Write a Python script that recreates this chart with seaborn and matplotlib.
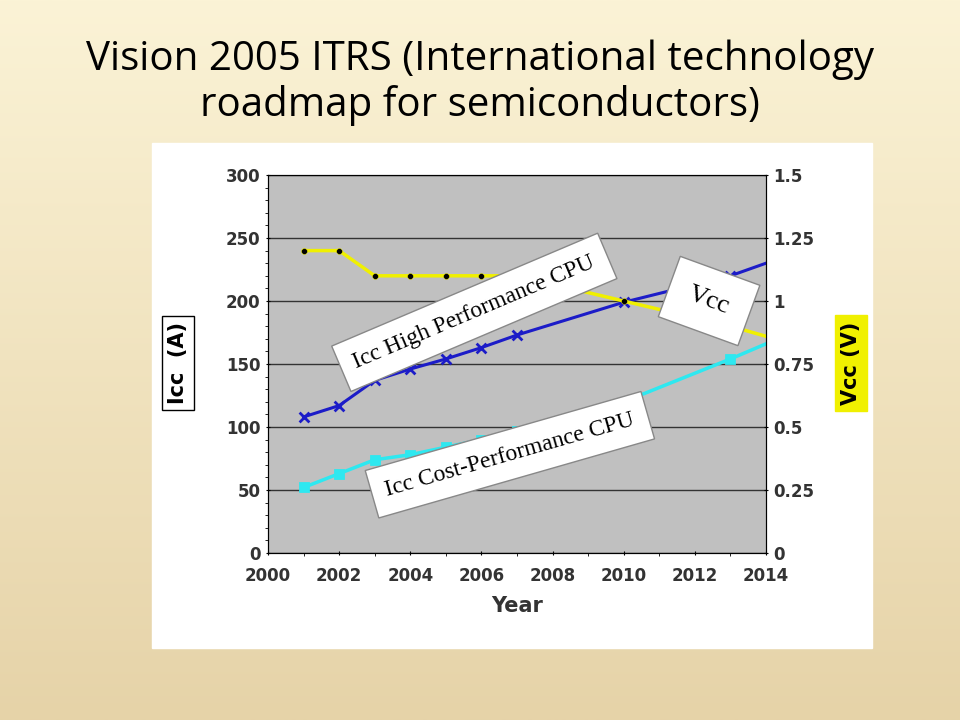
import numpy as np
import matplotlib
matplotlib.use("Agg")
import matplotlib.pyplot as plt
import seaborn as sns
import pandas as pd
from matplotlib.colors import LinearSegmentedColormap

years = [2001, 2002, 2003, 2004, 2005, 2006, 2007, 2010, 2013, 2014]
vcc = [1.2, 1.2, 1.1, 1.1, 1.1, 1.1, 1.1, 1.0, 0.9, 0.86]
icc_high = [108, 117, 137, 146, 154, 163, 173, 199, 220, 230]
icc_cost = [52, 63, 74, 78, 84, 90, 97, 120, 154, 166]
marked = [True]*9 + [False]
xticks = list(range(2000, 2015, 2))

df = pd.DataFrame(dict(year=years, vcc=vcc, high=icc_high, cost=icc_cost))
dm = df[marked]

fig = plt.figure(figsize=(9.6, 7.2), dpi=100)
bg = fig.add_axes([0, 0, 1, 1], zorder=-10)
grad = np.linspace(0, 1, 256)[:, None]
cm = LinearSegmentedColormap.from_list("g", ["#fbf3d6", "#e6d3a8"])
bg.imshow(grad, aspect="auto", cmap=cm, extent=[0, 1, 0, 1], origin="upper")
bg.axis("off")
fig.text(0.5, 0.945, "Vision 2005 ITRS (International technology\nroadmap for semiconductors)",
         ha="center", va="top", fontsize=29, family="Open Sans", linespacing=1.15)
fig.patches.append(plt.Rectangle((152/960, 1-648/720), 720/960, 505/720, transform=fig.transFigure,
                                 color="white", zorder=-5))

ax = fig.add_axes([268/960, 1-553/720, 498/960, 378/720])
ax.set_facecolor("#c0c0c0")
ax.set_xlim(2000, 2014); ax.set_ylim(0, 300)
ax.set_yticks(range(0, 301, 50))
ax.set_xticks(xticks)
ax.set_yticks(range(0, 301, 10), minor=True)
ax.set_xticks(range(2000, 2015), minor=True)
ax.grid(axis="y", color="#333333", lw=1)
ax.set_axisbelow(True)
for s in ax.spines.values(): s.set_color("#222222")
ax.tick_params(labelsize=12, direction="inout")
ax.tick_params(axis="x", pad=8)
for l in ax.get_yticklabels()+ax.get_xticklabels(): l.set_fontweight("bold"); l.set_color("#333333")

ax2 = ax.twinx()
ax2.set_ylim(0, 1.5)
ax2.set_yticks([0, 0.25, 0.5, 0.75, 1, 1.25, 1.5])
ax2.set_yticklabels(["0", "0.25", "0.5", "0.75", "1", "1.25", "1.5"])
ax2.tick_params(labelsize=12, direction="inout")
for l in ax2.get_yticklabels(): l.set_fontweight("bold"); l.set_color("#333333")

sns.lineplot(data=df, x="year", y="vcc", ax=ax2, color="#f0f000", lw=2.5)
sns.scatterplot(data=dm, x="year", y="vcc", ax=ax2, color="black", s=18, edgecolor="#f0f000", zorder=5)
sns.lineplot(data=df, x="year", y="high", ax=ax, color="#1c1cc8", lw=2.2)
sns.scatterplot(data=dm, x="year", y="high", ax=ax, color="#1c1cc8", marker="x", s=50, linewidth=2, zorder=5)
sns.lineplot(data=df, x="year", y="cost", ax=ax, color="#2ee8f0", lw=2.5)
sns.scatterplot(data=dm, x="year", y="cost", ax=ax, color="#2ee8f0", marker="s", s=50, edgecolor="#2ee8f0", zorder=5)
ax.set_ylabel(""); ax2.set_ylabel("")
ax.set_xlabel("Year", fontsize=15, fontweight="bold", color="#333333", labelpad=8)

box = dict(boxstyle="square,pad=0.6", fc="white", ec="#888888")
ax2.text(2005.8, 191/200, "Icc High Performance CPU", rotation=23, ha="center", va="center",
         family="Liberation Serif", fontsize=17, bbox=box, zorder=10)
ax2.text(2012.4, 1.0, "Vcc", rotation=-20, ha="center", va="center",
         family="Liberation Serif", fontsize=19, bbox=dict(boxstyle="square,pad=0.8", fc="white", ec="#888888"), zorder=10)
ax2.text(2006.8, 0.39, "Icc Cost-Performance CPU", rotation=16, ha="center", va="center",
         family="Liberation Serif", fontsize=17, bbox=box, zorder=10)

fig.text(178/960, 1-363/720, "Icc  (A)", rotation=90, ha="center", va="center", fontsize=15,
         fontweight="bold", bbox=dict(boxstyle="square,pad=0.3", fc="white", ec="black"))
fig.text(851/960, 1-363/720, "Vcc (V)", rotation=90, ha="center", va="center", fontsize=15,
         fontweight="bold", bbox=dict(boxstyle="square,pad=0.3", fc="#f0f000", ec="#f0f000"))
fig.savefig("out.png", dpi=100)
